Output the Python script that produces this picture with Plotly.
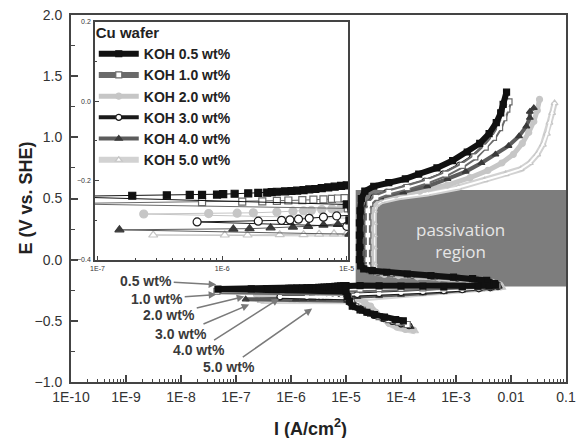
import plotly.graph_objects as go

# ---------------- data ----------------
# current density I (A/cm2) and potential E (V vs. SHE), in scan order
SERIES = ["KOH 0.5 wt%", "KOH 1.0 wt%", "KOH 2.0 wt%", "KOH 3.0 wt%", "KOH 4.0 wt%", "KOH 5.0 wt%"]

I_05 = [1.1e-4, 8e-5, 5e-5, 3.3e-5, 2.4e-5, 1.8e-5, 1.3e-5, 1.15e-5, 1.05e-5, 1.0e-5,
        4.7e-8, 1.9e-7, 3.6e-7, 5.5e-7, 6.9e-7, 9.1e-7, 1.02e-6, 1.26e-6, 1.62e-6, 1.95e-6, 2.3e-6, 2.5e-6,
        2.75e-6, 3.2e-6, 3.6e-6, 4.0e-6, 4.5e-6, 5.0e-6, 5.6e-6, 6.3e-6, 7.1e-6, 8.0e-6, 9.0e-6, 1.0e-5,
        1.8e-5, 4e-5, 1e-4, 2.5e-4, 6e-4, 1.3e-3, 2.5e-3, 4e-3, 5.3e-3,
        5.0e-3, 3.6e-3, 2e-3, 9e-4, 3.5e-4, 1.3e-4, 5.5e-5, 3e-5, 2.1e-5, 1.85e-5,
        1.75e-5, 1.75e-5, 1.75e-5, 1.75e-5, 1.8e-5, 1.9e-5,
        2.2e-5, 3.2e-5, 6e-5, 1.2e-4, 2.1e-4, 4.5e-4, 8.7e-4, 1.6e-3, 2.7e-3, 4e-3, 5.4e-3, 6.5e-3, 7.2e-3, 8.3e-3]
E_05 = [-0.50, -0.49, -0.47, -0.45, -0.43, -0.41, -0.38, -0.34, -0.30, -0.26,
        -0.240, -0.238, -0.237, -0.236, -0.236, -0.235, -0.234, -0.233, -0.232, -0.231, -0.230, -0.229,
        -0.228, -0.227, -0.226, -0.225, -0.224, -0.222, -0.221, -0.219, -0.217, -0.215, -0.213, -0.212,
        -0.212, -0.214, -0.216, -0.217, -0.218, -0.218, -0.217, -0.214, -0.208,
        -0.195, -0.17, -0.155, -0.143, -0.13, -0.117, -0.103, -0.09, -0.075, -0.05,
        0.0, 0.1, 0.2, 0.3, 0.4, 0.5,
        0.56, 0.60, 0.63, 0.66, 0.70, 0.75, 0.81, 0.88, 0.95, 1.03, 1.12, 1.20, 1.27, 1.37]

I_10 = [1.3e-4, 9e-5, 6e-5, 4e-5, 2.8e-5, 2e-5, 1.5e-5, 1.25e-5, 1.1e-5, 1.02e-5,
        4.5e-8, 6.9e-7, 1.45e-6, 2.1e-6, 2.75e-6, 3.4e-6, 4.4e-6, 5.4e-6, 6.5e-6, 7.6e-6, 8.5e-6, 9.6e-6,
        1.8e-5, 4e-5, 1e-4, 2.5e-4, 6e-4, 1.3e-3, 2.5e-3, 4e-3, 5.6e-3,
        5.2e-3, 3.8e-3, 2.2e-3, 1e-3, 4e-4, 1.5e-4, 6.5e-5, 3.6e-5, 2.7e-5, 2.5e-5,
        2.5e-5, 2.5e-5, 2.5e-5, 2.5e-5, 2.5e-5,
        2.7e-5, 3.5e-5, 6e-5, 1.3e-4, 3e-4, 6.5e-4, 1.3e-3, 2.2e-3, 3.4e-3, 4.8e-3, 6.2e-3, 7.4e-3, 8.4e-3, 9.2e-3]
E_10 = [-0.53, -0.51, -0.49, -0.465, -0.44, -0.415, -0.385, -0.35, -0.31, -0.27,
        -0.258, -0.254, -0.253, -0.252, -0.251, -0.250, -0.249, -0.248, -0.247, -0.246, -0.245, -0.244,
        -0.240, -0.237, -0.234, -0.231, -0.228, -0.225, -0.222, -0.218, -0.212,
        -0.198, -0.175, -0.16, -0.148, -0.136, -0.124, -0.112, -0.1, -0.085, -0.06,
        0.0, 0.1, 0.2, 0.3, 0.4,
        0.46, 0.51, 0.55, 0.59, 0.64, 0.70, 0.77, 0.84, 0.92, 1.00, 1.08, 1.16, 1.23, 1.29]

I_20 = [1.7e-4, 1.2e-4, 8.5e-5, 6e-5, 4.5e-5, 3.5e-5, 2.8e-5, 2.2e-5, 1.6e-5, 1.2e-5,
        2.35e-7, 7.8e-7, 1.32e-6, 1.78e-6, 2.75e-6, 3.7e-6, 4.5e-6, 5.2e-6, 6.3e-6, 7.6e-6, 8.9e-6,
        1.8e-5, 4e-5, 1e-4, 2.5e-4, 6e-4, 1.4e-3, 2.8e-3, 4.6e-3, 6.5e-3,
        6.2e-3, 4.5e-3, 2.6e-3, 1.2e-3, 5e-4, 2e-4, 9e-5, 5e-5, 3.5e-5, 3e-5,
        2.9e-5, 2.9e-5, 2.9e-5, 2.9e-5, 2.9e-5,
        3.3e-5, 4.2e-5, 8e-5, 2.2e-4, 7e-4, 1.8e-3, 3.8e-3, 6.8e-3, 1.1e-2, 1.6e-2, 2.1e-2, 2.6e-2, 3e-2, 3.3e-2]
E_20 = [-0.575, -0.57, -0.55, -0.52, -0.48, -0.43, -0.38, -0.35, -0.32, -0.295,
        -0.284, -0.283, -0.282, -0.281, -0.279, -0.277, -0.276, -0.275, -0.273, -0.271, -0.270,
        -0.268, -0.262, -0.256, -0.25, -0.245, -0.24, -0.235, -0.23, -0.222,
        -0.205, -0.185, -0.17, -0.16, -0.15, -0.14, -0.13, -0.12, -0.105, -0.08,
        -0.03, 0.1, 0.2, 0.3, 0.4,
        0.46, 0.50, 0.53, 0.56, 0.61, 0.67, 0.73, 0.79, 0.86, 0.95, 1.04, 1.13, 1.22, 1.31]

I_30 = [1.4e-4, 1e-4, 7e-5, 4.8e-5, 3.3e-5, 2.4e-5, 1.8e-5, 1.4e-5, 1.15e-5, 1.0e-5,
        6.3e-7, 1.95e-6, 3.0e-6, 3.5e-6, 4.1e-6, 5.0e-6, 6.5e-6, 8.3e-6,
        1.6e-5, 4e-5, 1e-4, 2.5e-4, 6e-4, 1.3e-3, 2.6e-3, 4.2e-3, 5.8e-3,
        5.4e-3, 4e-3, 2.3e-3, 1.05e-3, 4.2e-4, 1.6e-4, 7e-5, 3.8e-5, 2.7e-5, 2.4e-5,
        2.4e-5, 2.4e-5, 2.4e-5, 2.4e-5, 2.4e-5,
        2.6e-5, 3.2e-5, 5.5e-5, 1.2e-4, 2.7e-4, 5.8e-4, 1.15e-3, 2.0e-3, 3.1e-3, 4.4e-3, 5.7e-3, 6.8e-3, 7.8e-3, 8.6e-3]
E_30 = [-0.54, -0.525, -0.505, -0.48, -0.455, -0.43, -0.40, -0.37, -0.34, -0.315,
        -0.304, -0.302, -0.300, -0.299, -0.297, -0.295, -0.292, -0.289,
        -0.285, -0.278, -0.27, -0.262, -0.254, -0.246, -0.238, -0.23, -0.22,
        -0.2, -0.178, -0.163, -0.151, -0.139, -0.127, -0.115, -0.103, -0.088, -0.062,
        0.0, 0.1, 0.2, 0.3, 0.4,
        0.46, 0.51, 0.55, 0.59, 0.64, 0.70, 0.77, 0.84, 0.92, 1.00, 1.08, 1.16, 1.23, 1.29]

I_40 = [1.5e-4, 1.1e-4, 7.5e-5, 5e-5, 3.5e-5, 2.6e-5, 1.9e-5, 1.45e-5, 1.2e-5, 1.05e-5,
        1.5e-7, 1.23e-6, 1.66e-6, 2.45e-6, 3.7e-6, 4.9e-6, 6.5e-6, 8.5e-6,
        1.6e-5, 4e-5, 1e-4, 2.5e-4, 6e-4, 1.3e-3, 2.6e-3, 4.3e-3, 6e-3,
        5.6e-3, 4.1e-3, 2.4e-3, 1.1e-3, 4.4e-4, 1.7e-4, 7e-5, 3.5e-5, 2.4e-5, 2.15e-5,
        2.1e-5, 2.1e-5, 2.1e-5, 2.1e-5, 2.1e-5,
        2.3e-5, 2.8e-5, 4.2e-5, 1.1e-4, 3e-4, 7e-4, 1.5e-3, 2.9e-3, 5.2e-3, 9e-3, 1.4e-2, 1.9e-2, 2.2e-2, 2.2e-2, 2.6e-2]
E_40 = [-0.55, -0.535, -0.515, -0.49, -0.465, -0.44, -0.41, -0.38, -0.355, -0.335,
        -0.324, -0.322, -0.321, -0.319, -0.317, -0.315, -0.312, -0.310,
        -0.305, -0.295, -0.285, -0.274, -0.263, -0.252, -0.242, -0.232, -0.22,
        -0.2, -0.178, -0.163, -0.151, -0.139, -0.127, -0.114, -0.1, -0.083, -0.058,
        0.0, 0.1, 0.2, 0.3, 0.38,
        0.43, 0.48, 0.51, 0.55, 0.60, 0.66, 0.72, 0.79, 0.86, 0.93, 1.01, 1.09, 1.16, 1.21, 1.24]

I_50 = [1.8e-4, 1.3e-4, 9e-5, 6.5e-5, 4.8e-5, 3.7e-5, 3e-5, 2.4e-5, 1.8e-5, 1.3e-5,
        2.8e-7, 1.05e-6, 1.6e-6, 2.9e-6, 4.5e-6, 6e-6, 7.9e-6, 1e-5,
        1.8e-5, 4e-5, 1e-4, 2.5e-4, 6e-4, 1.4e-3, 2.9e-3, 4.8e-3, 6.8e-3,
        6.5e-3, 4.8e-3, 2.8e-3, 1.3e-3, 5.5e-4, 2.2e-4, 1e-4, 5.5e-5, 3.8e-5, 3.3e-5,
        3.2e-5, 3.2e-5, 3.2e-5, 3.2e-5, 3.2e-5,
        3.5e-5, 4.5e-5, 9e-5, 3e-4, 1.1e-3, 3.3e-3, 8e-3, 1.5e-2, 2.2e-2, 3e-2, 3.8e-2, 4.5e-2, 5e-2, 5.6e-2, 6.2e-2]
E_50 = [-0.585, -0.575, -0.56, -0.53, -0.49, -0.445, -0.40, -0.37, -0.35, -0.34,
        -0.337, -0.337, -0.337, -0.336, -0.336, -0.335, -0.334, -0.333,
        -0.318, -0.305, -0.292, -0.28, -0.268, -0.256, -0.245, -0.235, -0.225,
        -0.208, -0.188, -0.174, -0.164, -0.154, -0.144, -0.134, -0.124, -0.11, -0.085,
        -0.03, 0.1, 0.2, 0.3, 0.4,
        0.45, 0.48, 0.51, 0.54, 0.59, 0.65, 0.70, 0.74, 0.79, 0.86, 0.94, 1.03, 1.12, 1.20, 1.28]

# passivation region (current and potential limits)
PASS_I = [1.5e-5, 0.1]
PASS_E = [-0.22, 0.57]

# tick labels
X_TICKS = [1e-10, 1e-9, 1e-8, 1e-7, 1e-6, 1e-5, 1e-4, 1e-3, 1e-2, 1e-1]
X_TICKTEXT = ["1E-10", "1E-9", "1E-8", "1E-7", "1E-6", "1E-5", "1E-4", "1E-3", "0.01", "0.1"]
INSET_TICKS = [1e-7, 1e-6, 1e-5]
INSET_TICKTEXT = ["1E-7", "1E-6", "1E-5"]
LABELS = ["0.5 wt%", "1.0 wt%", "2.0 wt%", "3.0 wt%", "4.0 wt%", "5.0 wt%"]

# ---------------- styles ----------------
DATA = [(I_05, E_05), (I_10, E_10), (I_20, E_20), (I_30, E_30), (I_40, E_40), (I_50, E_50)]
STYLE = [
    dict(line="#111111", symbol="square", fill="#111111", mline="#111111", open=False, w=6),
    dict(line="#6a6a6a", symbol="square", fill="white", mline="#6a6a6a", open=True, w=6),
    dict(line="#c6c6c6", symbol="circle", fill="#c6c6c6", mline="#c6c6c6", open=False, w=5),
    dict(line="#1a1a1a", symbol="circle", fill="white", mline="#1a1a1a", open=True, w=4),
    dict(line="#5c5c5c", symbol="triangle-up", fill="#3a3a3a", mline="#3a3a3a", open=False, w=4),
    dict(line="#d2d2d2", symbol="triangle-up", fill="white", mline="#c6c6c6", open=True, w=6),
]
DRAW_ORDER = [5, 2, 4, 3, 1, 0]

fig = go.Figure()

# main plot traces
for k in DRAW_ORDER:
    xs, ys = DATA[k]
    st = STYLE[k]
    fig.add_trace(go.Scatter(
        x=xs, y=ys, mode="lines+markers", name=SERIES[k], legendrank=k + 1,
        line=dict(color=st["line"], width=st["w"]),
        marker=dict(symbol=st["symbol"], size=6, color=st["fill"],
                    line=dict(color=st["mline"], width=1.2)),
        xaxis="x", yaxis="y", hoverinfo="skip"))
    if st["open"]:
        fig.add_trace(go.Scatter(
            x=xs, y=ys, mode="lines", showlegend=False,
            line=dict(color="white", width=2),
            xaxis="x", yaxis="y", hoverinfo="skip"))

# inset traces (same data, zoomed)
for k in DRAW_ORDER:
    xs, ys = DATA[k]
    st = STYLE[k]
    fig.add_trace(go.Scatter(
        x=xs, y=ys, mode="lines+markers", showlegend=False,
        line=dict(color=st["line"] if not st["open"] else st["mline"], width=1),
        marker=dict(symbol=st["symbol"], size=8 if st["symbol"] != "square" else 7,
                    color=st["fill"], line=dict(color=st["mline"], width=1.2)),
        xaxis="x2", yaxis="y2", hoverinfo="skip"))

AX = "#444444"
TXT = "#333333"
FONT = "Liberation Sans, Arial, sans-serif"

x_minor = [m * 10.0 ** e for e in range(-10, -1) for m in range(2, 10)]
x2_minor = [m * 10.0 ** e for e in range(-7, -5) for m in range(2, 10)]

# the page adds an 8 px body margin, so the figure is sized 8 px smaller
fig.update_layout(
    width=576, height=430,
    margin=dict(l=63, r=18, t=7, b=56, autoexpand=False),
    paper_bgcolor="white", plot_bgcolor="white",
    font=dict(family=FONT, size=14, color=TXT),
    showlegend=True,
    legend=dict(x=0.046, y=0.99, xanchor="left", yanchor="top",
                bgcolor="rgba(0,0,0,0)", itemwidth=40, tracegroupgap=0,
                font=dict(family=FONT, size=14, color="#222222", weight="bold"),
                title=dict(text="Cu wafer", font=dict(family=FONT, size=15, color="#222222", weight="bold"))),
    xaxis=dict(type="log", range=[-10, -1], domain=[0, 1], anchor="y", automargin=False,
               tickmode="array", tickvals=X_TICKS, ticktext=X_TICKTEXT,
               ticks="inside", ticklen=7, tickwidth=1.5, tickcolor=AX,
               showline=True, linewidth=2, linecolor=AX, mirror=True,
               showgrid=False, zeroline=False, ticklabelstandoff=1, ticklabeloverflow="allow",
               tickfont=dict(family=FONT, size=14, color=TXT),
               minor=dict(tickmode="array", tickvals=x_minor, ticks="inside",
                          ticklen=3.5, tickwidth=1.2, tickcolor=AX, showgrid=False)),
    yaxis=dict(range=[-1, 2], domain=[0, 1], anchor="x", dtick=0.5, tickformat=".1f", automargin=False,
               ticks="inside", ticklen=7, tickwidth=1.5, tickcolor=AX,
               showline=True, linewidth=2, linecolor=AX, mirror=True,
               showgrid=False, zeroline=False, ticklabelstandoff=4, ticklabeloverflow="allow",
               tickfont=dict(family=FONT, size=14, color=TXT),
               minor=dict(dtick=0.25, ticks="inside", ticklen=4, tickwidth=1.2,
                          tickcolor=AX, showgrid=False)),
    xaxis2=dict(type="log", range=[-7.02, -4.99], domain=[0.0485, 0.5596], anchor="y2", automargin=False,
                tickmode="array", tickvals=INSET_TICKS, ticktext=INSET_TICKTEXT,
                ticks="inside", ticklen=4, tickwidth=1, tickcolor=AX,
                showline=True, linewidth=1.5, linecolor=AX, mirror=True,
                showgrid=False, zeroline=False, ticklabelstandoff=1, ticklabeloverflow="allow",
                tickfont=dict(family=FONT, size=7, color=TXT),
                minor=dict(tickmode="array", tickvals=x2_minor, ticks="inside",
                           ticklen=2.5, tickwidth=1, tickcolor=AX, showgrid=False)),
    yaxis2=dict(range=[-0.4, 0.2], domain=[0.3324, 0.981], anchor="x2", automargin=False,
                dtick=0.2, tickformat=".1f",
                ticks="inside", ticklen=4, tickwidth=1, tickcolor=AX,
                showline=True, linewidth=1.5, linecolor=AX, mirror=True,
                showgrid=False, zeroline=False, ticklabelstandoff=1, ticklabeloverflow="allow",
                tickfont=dict(family=FONT, size=7, color=TXT),
                minor=dict(dtick=0.1, ticks="inside", ticklen=2.5, tickwidth=1,
                           tickcolor=AX, showgrid=False)),
)

# axis titles
TITLE_FONT = dict(family=FONT, size=18, color="#222222", weight="bold")
fig.add_annotation(xref="paper", yref="paper", x=-0.0929, y=0.5, text="E (V vs. SHE)",
                   textangle=-90, showarrow=False, xanchor="center", yanchor="middle", font=TITLE_FONT)
fig.add_annotation(xref="paper", yref="paper", x=0.4848, y=-0.1253, text="I (A/cm<sup>2</sup>)",
                   showarrow=False, xanchor="center", yanchor="middle", font=TITLE_FONT)

# passivation region
fig.add_shape(type="rect", xref="x", yref="y",
              x0=PASS_I[0], x1=PASS_I[1], y0=PASS_E[0], y1=PASS_E[1],
              fillcolor="#7d7d7d", line=dict(width=0), layer="below")
fig.add_annotation(xref="x", yref="y", x=-2.91, y=0.16, text="passivation<br>region",
                   showarrow=False, font=dict(family="Open Sans, sans-serif", size=17, color="#e6e6e6"))

# arrow labels (tip in data coords, text offset in px)
TIPS = [(-7.36, -0.204, -70, -4), (-7.36, -0.285, -59, 4), (-6.85, -0.302, -75, 18),
        (-6.76, -0.367, -68, 29), (-6.215, -0.318, -80, 51), (-5.615, -0.40, -83, 58)]
for lab, (tx, ty, ax, ay) in zip(LABELS, TIPS):
    fig.add_annotation(xref="x", yref="y", x=tx, y=ty, ax=ax, ay=ay, text=lab,
                       showarrow=True, arrowhead=2, arrowsize=1, arrowwidth=1.5,
                       arrowcolor="#7a7a7a",
                       font=dict(family=FONT, size=14, color="#3a3a3a", weight="bold"))

fig.write_html("out.html")
